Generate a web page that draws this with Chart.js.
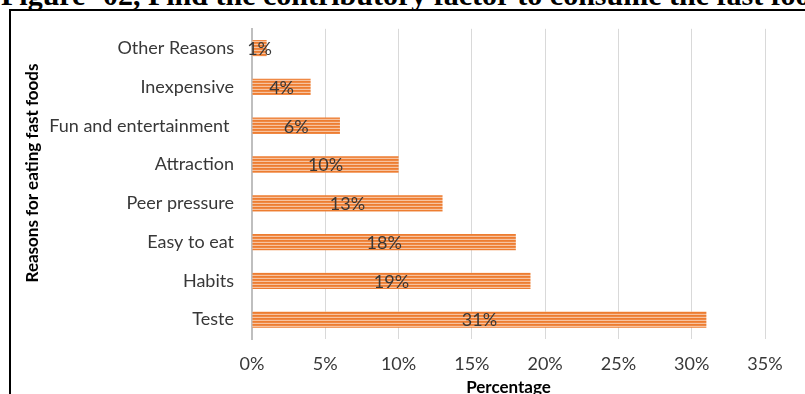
<!DOCTYPE html>
<html>
<head>
<meta charset="utf-8">
<script src="https://cdn.jsdelivr.net/npm/chart.js@4.4.1/dist/chart.umd.min.js"></script>
<style>
  html, body { margin: 0; padding: 0; background: #fff; overflow: hidden; }
  #page { position: relative; width: 805px; height: 394px; overflow: hidden; }
  #heading {
    position: absolute; left: 1px; top: -20px; white-space: nowrap;
    font: bold 30px/30px "Liberation Serif", "Times New Roman", serif; color: #000;
  }
  #frame {
    position: absolute; left: 9px; top: 9px; width: 900px; height: 500px;
    border-left: 2.5px solid #000; border-top: 2.5px solid #000;
  }
  #chart { position: absolute; left: 0; top: 0; }
</style>
</head>
<body>
<div id="page">
  <div id="heading">Figure -02, Find the contributory factor to consume the fast food</div>
  <div id="frame"></div>
  <canvas id="chart" width="805" height="394"></canvas>
</div>
<script>
// Reasons, listed top to bottom as in the figure
const reasons = [
  'Other Reasons',
  'Inexpensive',
  'Fun and entertainment ',
  'Attraction',
  'Peer pressure',
  'Easy to eat',
  'Habits',
  'Teste'
];
const shares = [1, 4, 6, 10, 13, 18, 19, 31];
const xTicks = [0, 5, 10, 15, 20, 25, 30, 35];
const yTitle = 'Reasons for eating fast foods';

const textColor = '#383838';
const fontName = 'Lato, "Open Sans", sans-serif';


function stripePattern() {
  // Horizontal stripes, like the Excel fill.
  const c = document.createElement('canvas');
  c.width = 4;
  c.height = 3;
  const g = c.getContext('2d');
  g.fillStyle = '#ED7D31';
  g.fillRect(0, 0, 4, 1);
  g.fillStyle = '#EF8945';
  g.fillRect(0, 1, 4, 1);
  g.fillStyle = '#F7C3A0';
  g.fillRect(0, 2, 4, 1);
  return g.createPattern(c, 'repeat');
}


const barLabels = {
  id: 'barLabels',
  afterDatasetsDraw(chart) {
    const ctx = chart.ctx;
    const meta = chart.getDatasetMeta(0);
    ctx.save();
    ctx.fillStyle = textColor;
    ctx.font = '18px ' + fontName;
    ctx.textAlign = 'center';
    ctx.textBaseline = 'middle';
    meta.data.forEach((bar, i) => {
      const v = chart.data.datasets[0].data[i];
      ctx.fillText(v + '%', (bar.x + bar.base) / 2, bar.y + 1);
    });
    ctx.restore();
  }
};


// The y title sits a bit above the middle of the axis in the figure,
// so it is drawn by hand.
const sideTitle = {
  id: 'sideTitle',
  afterDraw(chart) {
    const ctx = chart.ctx;
    ctx.save();
    ctx.translate(33, 173);
    ctx.rotate(-Math.PI / 2);
    ctx.fillStyle = '#000';
    ctx.font = 'bold 17px ' + fontName;
    ctx.textAlign = 'center';
    ctx.textBaseline = 'middle';
    ctx.fillText(yTitle, 0, 0);
    ctx.restore();
  }
};


const ctx = document.getElementById('chart').getContext('2d');
new Chart(ctx, {
  type: 'bar',
  data: {
    labels: reasons,
    datasets: [{
      data: shares,
      backgroundColor: stripePattern(),
      borderWidth: 0,
      barPercentage: 0.42,
      categoryPercentage: 1
    }]
  },
  options: {
    indexAxis: 'y',
    responsive: false,
    animation: false,
    events: [],
    layout: { padding: { left: 12, top: 17, right: 40, bottom: 0 } },
    plugins: {
      legend: { display: false },
      tooltip: { enabled: false }
    },
    scales: {
      x: {
        min: 0,
        max: 35,
        afterBuildTicks: (scale) => { scale.ticks = xTicks.map(v => ({ value: v })); },
        afterFit: (scale) => { scale.height = 55; },
        grid: { color: '#D9D9D9', lineWidth: 1, drawTicks: false },
        border: { display: false },
        ticks: {
          padding: 14,
          color: textColor,
          font: { family: fontName, size: 18 },
          callback: (v) => v + '%'
        },
        title: {
          display: true,
          text: 'Percentage',
          color: '#000',
          font: { family: fontName, size: 17, weight: 'bold' },
          padding: { top: 0, bottom: -4 }
        }
      },
      y: {
        afterFit: (scale) => { scale.width = 240; },
        grid: { display: false, drawTicks: false },
        border: { display: true, color: '#BFBFBF', width: 2 },
        ticks: {
          padding: 18,
          color: textColor,
          font: { family: fontName, size: 18 }
        }
      }
    }
  },
  plugins: [barLabels, sideTitle]
});
</script>
</body>
</html>
